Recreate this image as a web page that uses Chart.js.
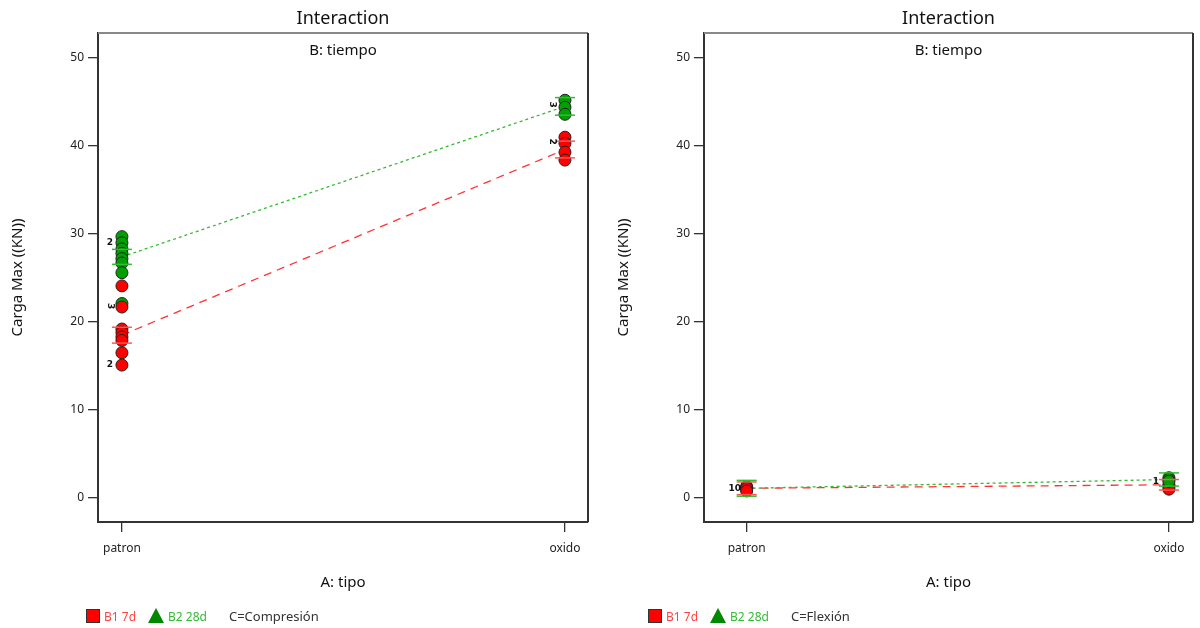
<!DOCTYPE html>
<html>
<head>
<meta charset="utf-8">
<script src="https://cdn.jsdelivr.net/npm/chart.js@4/dist/chart.umd.min.js"></script>
<style>
  body{margin:0;background:#fff;font-family:"Noto Sans",sans-serif;}
  #wrap{position:relative;width:1200px;height:628px;overflow:hidden;}
  canvas{position:absolute;top:0;}
  .legend{position:absolute;top:607px;height:18px;display:flex;align-items:center;font-size:12px;}
  .sq{width:14px;height:14px;background:#f00;border:1px solid #333;box-sizing:border-box;margin-right:4px;}
  .tri{width:0;height:0;border-left:8px solid transparent;border-right:8px solid transparent;border-bottom:15px solid #080;margin-right:4px;position:relative;top:-1px;}
  .red{color:#f44;margin-right:12px;}
  .grn{color:#3b3;margin-right:22px;}
  .cond{color:#333;font-size:13px;}
</style>
</head>
<body>
<div id="wrap">
  <canvas id="left" width="600" height="628" style="left:0"></canvas>
  <canvas id="right" width="600" height="628" style="left:600px"></canvas>
  <div class="legend" style="left:86px"><span class="sq"></span><span class="red">B1 7d</span><span class="tri"></span><span class="grn">B2 28d</span><span class="cond">C=Compresión</span></div>
  <div class="legend" style="left:648px"><span class="sq"></span><span class="red">B1 7d</span><span class="tri"></span><span class="grn">B2 28d</span><span class="cond">C=Flexión</span></div>
</div>
<script>
// factor A levels (x = 0, 1)
const tipos = ['patron', 'oxido'];
const yTicks = [0, 10, 20, 30, 40, 50];

// C = Compresión
const compRedPatron = [24.1, 21.7, 19.2, 18.8, 18.3, 17.9, 16.5, 15.1];
const compGreenPatron = [29.7, 29.0, 28.3, 27.8, 27.2, 26.7, 25.6, 22.1];
const compRedOxido = [41.0, 40.3, 39.3, 38.4];
const compGreenOxido = [45.2, 44.4, 43.6];
const compRedMean = [18.5, 39.6];
const compGreenMean = [27.4, 44.5];
const compRedLsd = [0.9, 0.95];
const compGreenLsd = [0.85, 1.0];

// C = Flexión
const flexRedPatron = [1.3, 1.1, 0.8];
const flexGreenPatron = [1.2, 1.0];
const flexRedOxido = [1.5, 1.3, 1.0];
const flexGreenOxido = [2.3, 2.1, 1.9];
const flexRedMean = [1.1, 1.5];
const flexGreenMean = [1.1, 2.1];
const flexRedLsd = [0.72, 0.6];
const flexGreenLsd = [0.9, 0.75];

const RED = '#ff0000', GREEN = '#00a000';
const yMin = -2.73, yMax = 52.84;

const pts = (x, arr) => arr.map(v => ({x, y: v}));

function pointSet(data, color, order){
  return {type:'scatter', data, order, backgroundColor:color, borderColor:'#222', borderWidth:1,
          pointRadius:6, pointHoverRadius:6};
}
function meanLine(means, color, dash, order){
  return {type:'line', data: means.map((v,i)=>({x:i, y:v})), order, borderColor:color,
          borderWidth:1.3, borderDash:dash, pointRadius:0, fill:false};
}

// frame, error bars, count labels and panel texts
const decor = {
  id:'decor',
  afterDatasetsDraw(chart, args, o){
    const {ctx, scales:{x, y}} = chart;
    ctx.save();
    // LSD bars
    o.bars.forEach(b => {
      b.mean.forEach((m,i)=>{
        const px = x.getPixelForValue(i);
        [m - b.lsd[i], m + b.lsd[i]].forEach(v=>{
          const py = y.getPixelForValue(v);
          ctx.strokeStyle = b.color; ctx.lineWidth = 1.5;
          ctx.beginPath(); ctx.moveTo(px-10, py); ctx.lineTo(px+10, py); ctx.stroke();
        });
      });
    });
    // coincident point counts
    ctx.fillStyle = '#111'; ctx.font = 'bold 9px "DejaVu Sans"';
    ctx.textAlign = 'center'; ctx.textBaseline = 'middle';
    o.counts.forEach(c=>{
      const px = x.getPixelForValue(c.x) + c.dx, py = y.getPixelForValue(c.y);
      ctx.save(); ctx.translate(px, py); if(c.rot) ctx.rotate(Math.PI/2);
      ctx.fillText(c.t, 0, 0); ctx.restore();
    });
    ctx.restore();
  },
  afterDraw(chart){
    const {ctx, chartArea:a} = chart;
    ctx.save();
    ctx.strokeStyle = '#888'; ctx.lineWidth = 2;
    ctx.beginPath(); ctx.moveTo(a.left, a.top); ctx.lineTo(a.right, a.top); ctx.stroke();
    ctx.strokeStyle = '#333'; ctx.lineWidth = 2;
    ctx.beginPath(); ctx.moveTo(a.right, a.top); ctx.lineTo(a.right, a.bottom); ctx.stroke();
    const cx = (a.left + a.right)/2;
    ctx.fillStyle = '#111'; ctx.textAlign = 'center'; ctx.textBaseline = 'middle';
    ctx.font = '18px "Noto Sans"'; ctx.fillText('Interaction', cx, 19);
    ctx.font = '15px "Noto Sans"'; ctx.fillText('B: tiempo', cx, 51);
    ctx.fillText('A: tipo', cx, 583);
    ctx.save(); ctx.translate(a.left - 80, (a.top + a.bottom)/2); ctx.rotate(-Math.PI/2);
    ctx.fillText('Carga Max ((KN))', 0, 0); ctx.restore();
    ctx.restore();
  }
};

function makePanel(id, sets, xr, axisW, padR, bars, counts){
  new Chart(document.getElementById(id), {
    data:{datasets:sets},
    plugins:[decor],
    options:{
      responsive:false, animation:false, events:[],
      layout:{padding:{top:33, right:padR, left:0, bottom:0}},
      plugins:{legend:{display:false}, tooltip:{enabled:false}, decor:{bars, counts}},
      scales:{
        x:{type:'linear', min:xr[0], max:xr[1],
           afterBuildTicks: s => { s.ticks = tipos.map((t,i)=>({value:i})); },
           afterFit: s => { s.height = 106; },
           ticks:{callback:(v)=>tipos[v], color:'#222', font:{family:'Noto Sans', size:12}, padding:9},
           grid:{drawOnChartArea:false, tickLength:10, color:'#333', lineWidth:1.3},
           border:{color:'#333', width:2}},
        y:{type:'linear', min:yMin, max:yMax,
           afterBuildTicks: s => { s.ticks = yTicks.map(v=>({value:v})); },
           afterFit: s => { s.width = axisW; },
           ticks:{color:'#222', font:{family:'Noto Sans', size:12}, padding:4},
           grid:{drawOnChartArea:false, tickLength:10, color:'#333', lineWidth:1.3},
           border:{color:'#333', width:2}}
      }
    }
  });
}

makePanel('left', [
  pointSet(pts(0, compRedPatron), RED, 1),
  pointSet(pts(0, compGreenPatron), GREEN, 2),
  pointSet(pts(1, compRedOxido), RED, 1),
  pointSet(pts(1, compGreenOxido), GREEN, 2),
  meanLine(compGreenMean, '#33bb33', [3,3], 3),
  meanLine(compRedMean, '#ff3333', [8,6], 3)
], [-0.054, 1.052], 98, 12,
[{mean:compRedMean, lsd:compRedLsd, color:'#ff5555'}, {mean:compGreenMean, lsd:compGreenLsd, color:'#33bb33'}],
[{x:0, y:29.0, dx:-12, t:'2'}, {x:0, y:21.8, dx:-12, t:'3', rot:true}, {x:0, y:15.1, dx:-12, t:'2'},
 {x:1, y:44.7, dx:-13, t:'3', rot:true}, {x:1, y:40.5, dx:-13, t:'2', rot:true}]);

makePanel('right', [
  pointSet(pts(1, flexGreenOxido), GREEN, 0),
  pointSet(pts(0, flexRedPatron), RED, 1),
  pointSet(pts(1, flexRedOxido), RED, 1),
  pointSet(pts(0, flexGreenPatron), GREEN, 2),
  meanLine(flexGreenMean, '#33bb33', [3,3], 3),
  meanLine(flexRedMean, '#ff3333', [8,6], 3)
], [-0.101, 1.057], 104, 5,
[{mean:flexRedMean, lsd:flexRedLsd, color:'#ff5555'}, {mean:flexGreenMean, lsd:flexGreenLsd, color:'#33bb33'}],
[{x:0, y:1.1, dx:-12, t:'10'}, {x:1, y:1.9, dx:-13, t:'1'}]);
</script>
</body>
</html>
